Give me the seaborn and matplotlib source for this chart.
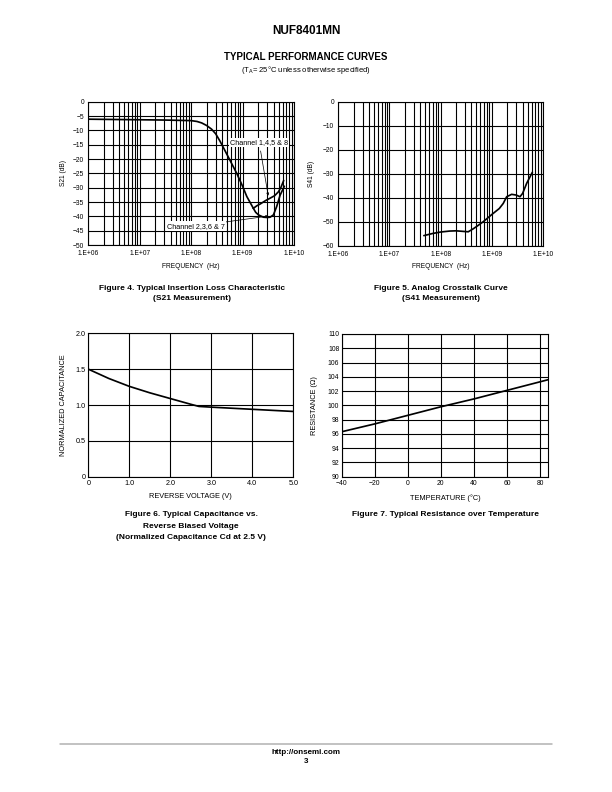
import numpy as np
import pandas as pd
import matplotlib
matplotlib.use("Agg")
import matplotlib.pyplot as plt
from matplotlib.ticker import FixedLocator, LogLocator, NullFormatter, FuncFormatter
import seaborn as sns

# ---------------- data ----------------
# Figure 4: S21 insertion loss (shared part, then two channel groups)
s21_freq_common = [1e6, 3e6, 1e7, 3e7, 1e8, 1.3e8, 1.6e8, 2e8, 2.5e8, 3e8, 3.65e8, 5e8, 7.7e8, 1e9, 1.21e9, 1.62e9]
s21_db_common = [-6.1, -6.2, -6.3, -6.4, -6.6, -6.9, -7.4, -8.3, -9.6, -11.2, -13.8, -18.5, -25.0, -29.5, -33.1, -37.2]
s21_freq_ch1458 = [1.62e9, 1.9e9, 2.2e9, 2.8e9, 3.4e9, 4.2e9, 5e9, 5.6e9, 6.3e9]
s21_db_ch1458 = [-37.2, -36.3, -35.7, -34.5, -33.7, -32.8, -31.4, -29.8, -27.5]
s21_freq_ch2367 = [1.62e9, 1.8e9, 2.04e9, 2.54e9, 3.0e9, 3.43e9, 3.98e9, 4.6e9, 5.37e9, 6.5e9]
s21_db_ch2367 = [-37.2, -38.6, -39.5, -40.3, -40.4, -40.3, -39.5, -36.6, -32.6, -29.5]

# Figure 5: S41 crosstalk
s41_freq = [4.7e7, 7e7, 1e8, 1.5e8, 2e8, 3e8, 3.46e8, 4.3e8, 5.2e8, 6.8e8, 1e9, 1.4e9, 1.67e9, 1.95e9, 2.44e9, 3e9, 3.55e9, 4e9, 4.8e9, 6.2e9]
s41_db = [-55.8, -54.9, -54.3, -53.9, -53.8, -54.1, -54.2, -53.0, -51.8, -50.0, -47.0, -44.5, -42.4, -39.6, -38.6, -38.9, -39.6, -38.2, -34.0, -29.4]

# Figure 6: normalized capacitance vs reverse voltage
cap_v = [0, 0.5, 1.0, 1.5, 2.0, 2.5, 2.7, 3.0, 3.5, 4.0, 4.5, 5.0]
cap_norm = [1.50, 1.37, 1.26, 1.17, 1.09, 1.01, 0.98, 0.97, 0.955, 0.94, 0.925, 0.91]

# Figure 7: resistance vs temperature
temp_c = [-40, -20, 0, 20, 40, 60, 80, 85]
res_ohm = [96.3, 97.4, 98.6, 99.8, 100.9, 102.1, 103.3, 103.6]

freq_ticks = [1e6, 1e7, 1e8, 1e9, 1e10]
freq_ticklabels = ["1.E+06", "1.E+07", "1.E+08", "1.E+09", "1.E+10"]

# ---------------- style ----------------
sns.set_style("white")
plt.rcParams["font.family"] = ["Liberation Sans", "DejaVu Sans"]
plt.rcParams["axes.unicode_minus"] = True
plt.rcParams["text.color"] = "black"
plt.rcParams["axes.labelcolor"] = "black"
plt.rcParams["xtick.color"] = "black"
plt.rcParams["ytick.color"] = "black"

W, H = 612, 792
fig = plt.figure(figsize=(W / 72, H / 72), dpi=72)

def fx(px):
    return px / W

def fy(py):
    return 1 - py / H

def make_ax(l, t, r, b):
    return fig.add_axes([fx(l), fy(b), fx(r) - fx(l), fy(t) - fy(b)])

LW = 1.7
GRID_LW = 1.1

def style_ax(ax, tick_fs, xpad, ypad):
    for s in ax.spines.values():
        s.set_color("black")
        s.set_linewidth(1.1)
        s.set_visible(True)
    ax.tick_params(axis="both", which="both", length=0, labelsize=tick_fs, colors="black")
    ax.tick_params(axis="x", pad=xpad)
    ax.tick_params(axis="y", pad=ypad)
    ax.set_axisbelow(True)

def place_labels(ax, xlabel, ylabel, fs, xl_y, yl_x):
    ax.set_xlabel(xlabel, fontsize=fs, color="black")
    ax.set_ylabel(ylabel, fontsize=fs, color="black")
    ax.xaxis.set_label_coords(0.5, xl_y)
    ax.yaxis.set_label_coords(yl_x, 0.5)
    ax.xaxis.label.set_va("center")
    ax.yaxis.label.set_va("center")

def minus_fmt(v, pos):
    v = int(round(v))
    if v < 0:
        return "\u2212%d" % abs(v)
    return "%d" % v

# ---------- Figure 4 ----------
ax4 = make_ax(88.3, 101.7, 294.0, 245.0)
df_common = pd.DataFrame({"f": s21_freq_common, "db": s21_db_common})
df_a = pd.DataFrame({"f": s21_freq_ch1458, "db": s21_db_ch1458})
df_b = pd.DataFrame({"f": s21_freq_ch2367, "db": s21_db_ch2367})
for d in (df_common, df_a, df_b):
    sns.lineplot(data=d, x="f", y="db", ax=ax4, color="black", lw=LW, sort=False, legend=False)
ax4.set_xscale("log")
ax4.set_xlim(1e6, 1e10)
ax4.set_ylim(-50, 0)
ax4.xaxis.set_major_locator(FixedLocator(freq_ticks))
ax4.set_xticklabels(freq_ticklabels)
ax4.xaxis.set_minor_locator(LogLocator(base=10, subs=np.arange(2, 10)))
ax4.xaxis.set_minor_formatter(NullFormatter())
ax4.yaxis.set_major_locator(FixedLocator(np.arange(-50, 1, 5)))
ax4.yaxis.set_major_formatter(FuncFormatter(minus_fmt))
ax4.grid(True, which="both", axis="x", color="black", lw=GRID_LW)
ax4.grid(True, which="major", axis="y", color="black", lw=GRID_LW)
style_ax(ax4, 6.6, 5.0, 4.0)
place_labels(ax4, "FREQUENCY  (Hz)", "S21 (dB)", 6.6, -0.152, -0.122)
bbox = dict(boxstyle="square,pad=0.15", fc="white", ec="none")
ax4.annotate("Channel 1,4,5 & 8", xy=(3.15e9, -32.8), xytext=(2.1e9, -14.2),
             fontsize=7.3, ha="center", va="center", bbox=bbox,
             arrowprops=dict(arrowstyle="-|>", color="black", lw=0.7, mutation_scale=5,
                             shrinkA=4, shrinkB=0))
ax4.annotate("Channel 2,3,6 & 7", xy=(3.2e9, -39.9), xytext=(1.22e8, -43.4),
             fontsize=7.3, ha="center", va="center", bbox=bbox,
             arrowprops=dict(arrowstyle="-|>", color="black", lw=0.7, mutation_scale=5,
                             shrinkA=0, shrinkB=0))

# ---------- Figure 5 ----------
ax5 = make_ax(338.3, 101.7, 543.0, 245.7)
df5 = pd.DataFrame({"f": s41_freq, "db": s41_db})
sns.lineplot(data=df5, x="f", y="db", ax=ax5, color="black", lw=LW, sort=False, legend=False)
ax5.set_xscale("log")
ax5.set_xlim(1e6, 1e10)
ax5.set_ylim(-60, 0)
ax5.xaxis.set_major_locator(FixedLocator(freq_ticks))
ax5.set_xticklabels(freq_ticklabels)
ax5.xaxis.set_minor_locator(LogLocator(base=10, subs=np.arange(2, 10)))
ax5.xaxis.set_minor_formatter(NullFormatter())
ax5.yaxis.set_major_locator(FixedLocator(np.arange(-60, 1, 10)))
ax5.yaxis.set_major_formatter(FuncFormatter(minus_fmt))
ax5.grid(True, which="both", axis="x", color="black", lw=GRID_LW)
ax5.grid(True, which="major", axis="y", color="black", lw=GRID_LW)
style_ax(ax5, 6.6, 5.0, 4.0)
place_labels(ax5, "FREQUENCY  (Hz)", "S41 (dB)", 6.6, -0.146, -0.13)

# ---------- Figure 6 ----------
ax6 = make_ax(88.3, 333.3, 293.3, 476.7)
df6 = pd.DataFrame({"v": cap_v, "c": cap_norm})
sns.lineplot(data=df6, x="v", y="c", ax=ax6, color="black", lw=LW, legend=False)
ax6.set_xlim(0, 5)
ax6.set_ylim(0, 2)
ax6.xaxis.set_major_locator(FixedLocator([0, 1, 2, 3, 4, 5]))
ax6.set_xticklabels(["0", "1.0", "2.0", "3.0", "4.0", "5.0"])
ax6.yaxis.set_major_locator(FixedLocator([0, 0.5, 1.0, 1.5, 2.0]))
ax6.set_yticklabels(["0", "0.5", "1.0", "1.5", "2.0"])
ax6.grid(True, which="major", color="black", lw=GRID_LW)
style_ax(ax6, 7.2, 3.0, 3.0)
place_labels(ax6, "REVERSE VOLTAGE (V)", "NORMALIZED CAPACITANCE", 7.4, -0.139, -0.122)

# ---------- Figure 7 ----------
ax7 = make_ax(341.7, 334.0, 548.3, 476.7)
df7 = pd.DataFrame({"t": temp_c, "r": res_ohm})
sns.lineplot(data=df7, x="t", y="r", ax=ax7, color="black", lw=LW, legend=False)
ax7.set_xlim(-40, 85)
ax7.set_ylim(90, 110)
ax7.xaxis.set_major_locator(FixedLocator([-40, -20, 0, 20, 40, 60, 80]))
ax7.xaxis.set_major_formatter(FuncFormatter(minus_fmt))
ax7.yaxis.set_major_locator(FixedLocator(np.arange(90, 111, 2)))
ax7.grid(True, which="major", color="black", lw=GRID_LW)
style_ax(ax7, 6.8, 3.0, 2.5)
place_labels(ax7, "TEMPERATURE (\u00b0C)", "RESISTANCE (\u03a9)", 7.4, -0.151, -0.134)

# ---------------- page text ----------------
fig.text(fx(306), fy(30.7), "NUF8401MN", ha="center", va="center", fontsize=11.8, fontweight="bold")
fig.text(fx(306), fy(57.3), "TYPICAL PERFORMANCE CURVES", ha="center", va="center", fontsize=9.8, fontweight="bold")
fig.text(fx(306), fy(70.3), "(T$_\\mathregular{A}$= 25\u00b0C unless otherwise specified)", ha="center", va="center", fontsize=7.6)

CAP_FS = 8.4
fig.text(fx(192), fy(288.5), "Figure 4. Typical Insertion Loss Characteristic", ha="center", va="center", fontsize=CAP_FS, fontweight="bold")
fig.text(fx(192), fy(298.8), "(S21 Measurement)", ha="center", va="center", fontsize=CAP_FS, fontweight="bold")
fig.text(fx(441), fy(288.5), "Figure 5. Analog Crosstalk Curve", ha="center", va="center", fontsize=CAP_FS, fontweight="bold")
fig.text(fx(441), fy(298.8), "(S41 Measurement)", ha="center", va="center", fontsize=CAP_FS, fontweight="bold")
fig.text(fx(191), fy(514.8), "Figure 6. Typical Capacitance vs.", ha="center", va="center", fontsize=CAP_FS, fontweight="bold")
fig.text(fx(191), fy(526.3), "Reverse Biased Voltage", ha="center", va="center", fontsize=CAP_FS, fontweight="bold")
fig.text(fx(191), fy(537.6), "(Normalized Capacitance Cd at 2.5 V)", ha="center", va="center", fontsize=CAP_FS, fontweight="bold")
fig.text(fx(445), fy(514.8), "Figure 7. Typical Resistance over Temperature", ha="center", va="center", fontsize=CAP_FS, fontweight="bold")

fig.add_artist(plt.Line2D([fx(60), fx(552)], [fy(743.5), fy(743.5)], color="#b0b0b0", lw=1.5))
fig.text(fx(306), fy(752.5), "http://onsemi.com", ha="center", va="center", fontsize=8.0, fontweight="bold")
fig.text(fx(306), fy(761.5), "3", ha="center", va="center", fontsize=8.0, fontweight="bold")

fig.savefig("out.png", dpi=72)
